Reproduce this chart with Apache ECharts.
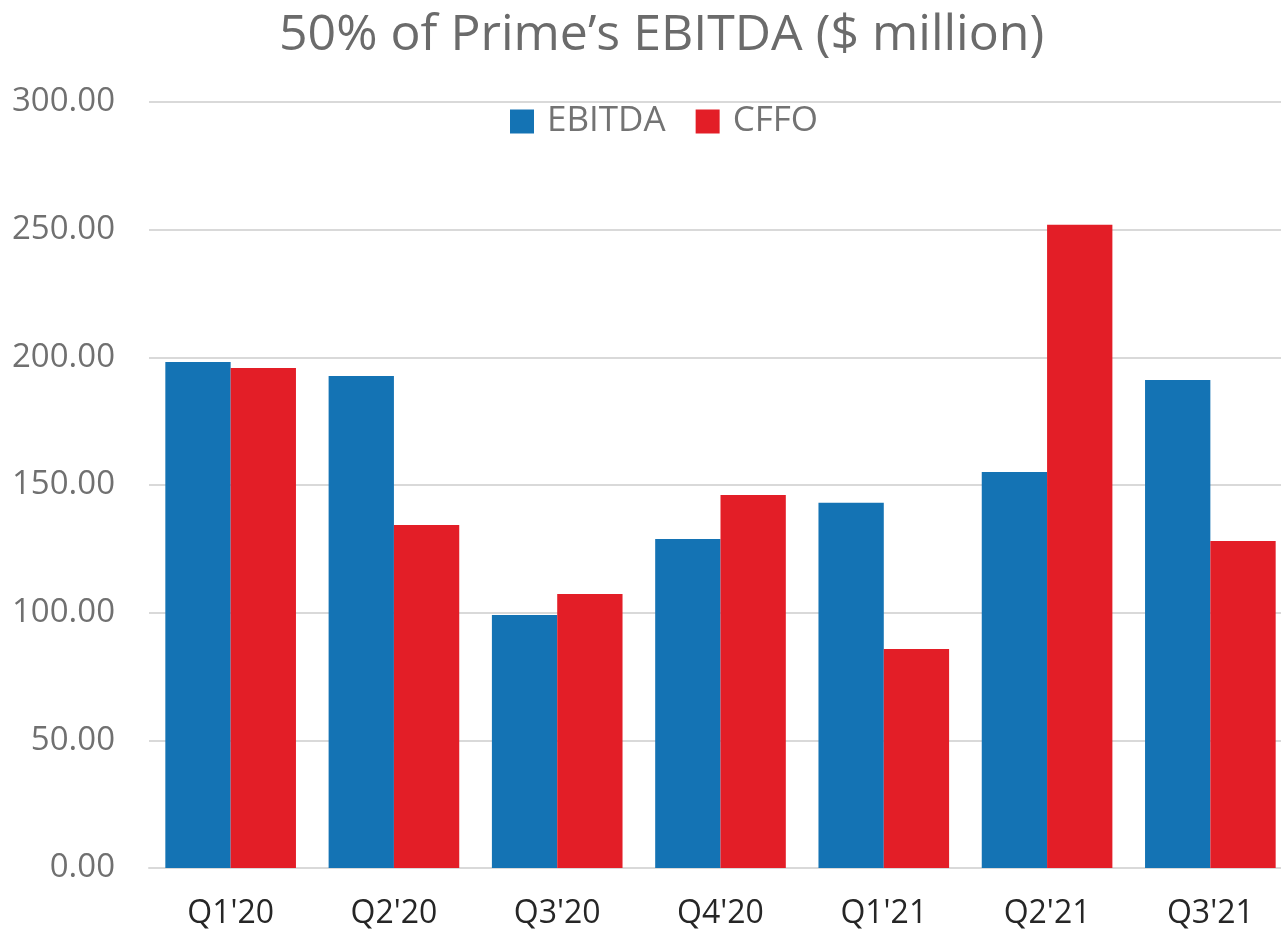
<!DOCTYPE html>
<html>
<head>
<meta charset="utf-8">
<script src="https://cdn.jsdelivr.net/npm/echarts@6/dist/echarts.min.js"></script>
<style>
  html, body { margin: 0; padding: 0; background: #fff; }
  #chart { width: 1281px; height: 933px; }
</style>
</head>
<body>
<div id="chart"></div>
<script>
// values ($ million)
const quarters = ["Q1'20", "Q2'20", "Q3'20", "Q4'20", "Q1'21", "Q2'21", "Q3'21"];
const ebitda = [198.2, 192.7, 99.1, 128.9, 143.0, 155.1, 191.1];
const cffo = [195.8, 134.3, 107.3, 146.1, 85.8, 251.9, 128.1];
const yTicks = { min: 0, max: 300, interval: 50 };

const FONT = '"Open Sans", "Noto Sans", sans-serif';

const chart = echarts.init(document.getElementById('chart'));
chart.setOption({
  animation: false,
  color: ['#1473B4', '#E31E27'],
  title: {
    text: '50% of Prime\u2019s EBITDA ($ million)',
    left: 274,
    top: 6,
    textStyle: { fontFamily: FONT, fontSize: 50, fontWeight: 'normal', color: '#6B6B6B' },
  },
  legend: {
    top: 99,
    left: 505,
    itemWidth: 24,
    itemHeight: 24,
    itemGap: 30,
    icon: 'rect',
    textStyle: { fontFamily: FONT, fontSize: 35, color: '#737373', padding: [0, 0, 0, 8] },
    data: ['EBITDA', 'CFFO'],
  },
  // plot runs a little past the right edge, as in the reference
  grid: {
    left: 149, width: 1143, top: 102, bottom: 65,
    containLabel: false, outerBoundsMode: 'none',
  },
  xAxis: {
    type: 'category',
    data: quarters,
    axisLine: { lineStyle: { color: '#D9D9D9', width: 2 } },
    axisTick: { show: false },
    axisLabel: { fontFamily: FONT, fontSize: 32, color: '#262626', margin: 30 },
  },
  yAxis: {
    type: 'value',
    min: yTicks.min,
    max: yTicks.max,
    interval: yTicks.interval,
    axisLine: { show: false },
    axisTick: { show: false },
    splitLine: { lineStyle: { color: '#D9D9D9', width: 2 } },
    axisLabel: {
      fontFamily: FONT, fontSize: 33, color: '#707070', margin: 34,
      formatter: (v) => v.toFixed(2),
    },
  },
  series: [
    { name: 'EBITDA', type: 'bar', data: ebitda, barGap: '0%', barCategoryGap: '20%' },
    { name: 'CFFO', type: 'bar', data: cffo, barGap: '0%', barCategoryGap: '20%' },
  ],
});
</script>
</body>
</html>
